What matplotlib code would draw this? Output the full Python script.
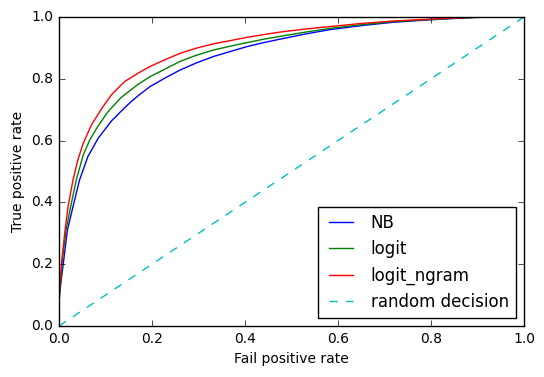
import matplotlib
matplotlib.use("Agg")
import matplotlib.pyplot as plt

# curvas ROC
nb_fpr = [0, 0, 0.004, 0.009, 0.018, 0.030, 0.044, 0.062, 0.084, 0.1125, 0.141, 0.153,
          0.170, 0.196, 0.230, 0.260, 0.295, 0.332, 0.37, 0.404, 0.44, 0.475, 0.53,
          0.583, 0.65, 0.72, 0.8, 0.86, 0.9, 1.0]
nb_tpr = [0, 0.08, 0.14, 0.20, 0.31, 0.386, 0.472, 0.548, 0.607, 0.663, 0.706, 0.723,
          0.745, 0.775, 0.804, 0.828, 0.851, 0.872, 0.889, 0.904, 0.917, 0.928, 0.945,
          0.959, 0.972, 0.983, 0.991, 0.996, 0.999, 1.0]

logit_fpr = [0, 0, 0.004, 0.007, 0.015, 0.025, 0.037, 0.052, 0.066, 0.084, 0.105, 0.134,
             0.170, 0.196, 0.230, 0.260, 0.295, 0.332, 0.37, 0.404, 0.44, 0.475, 0.53,
             0.583, 0.65, 0.72, 0.8, 0.86, 0.9, 1.0]
logit_tpr = [0, 0.09, 0.15, 0.21, 0.31, 0.386, 0.472, 0.553, 0.602, 0.647, 0.693, 0.740,
             0.782, 0.807, 0.833, 0.856, 0.876, 0.893, 0.906, 0.917, 0.928, 0.937, 0.951,
             0.963, 0.975, 0.985, 0.992, 0.997, 0.999, 1.0]

ngram_fpr = [0, 0, 0.003, 0.0057, 0.013, 0.0194, 0.030, 0.041, 0.052, 0.0695, 0.091,
             0.1125, 0.141, 0.170, 0.196, 0.230, 0.260, 0.295, 0.332, 0.37, 0.404, 0.44,
             0.475, 0.53, 0.583, 0.65, 0.72, 0.8, 0.86, 0.9, 1.0]
ngram_tpr = [0, 0.1, 0.15, 0.21, 0.31, 0.386, 0.472, 0.540, 0.591, 0.650, 0.702,
             0.748, 0.791, 0.818, 0.84, 0.863, 0.882, 0.899, 0.913, 0.924, 0.934, 0.943,
             0.951, 0.961, 0.969, 0.979, 0.987, 0.993, 0.997, 0.999, 1.0]

random_x = [0, 1]
random_y = [0, 1]

plt.style.use("classic")
plt.rcParams["font.size"] = 10
plt.rcParams["savefig.facecolor"] = "white"
plt.rcParams["figure.facecolor"] = "white"

fig = plt.figure(figsize=(5.44, 3.77), dpi=100)
ax = fig.add_axes([0.1085, 0.1353, 0.8547, 0.8197])

ax.plot(nb_fpr, nb_tpr, color="b", label="NB")
ax.plot(logit_fpr, logit_tpr, color="g", label="logit")
ax.plot(ngram_fpr, ngram_tpr, color="r", label="logit_ngram")
ax.plot(random_x, random_y, color="c", linestyle="--", label="random decision")

ax.set_xlim(0, 1)
ax.set_ylim(0, 1)
ax.set_xlabel("Fail positive rate")
ax.set_ylabel("True positive rate")
ax.legend(loc="lower right", fontsize=12)

fig.savefig("out.png", dpi=100)
